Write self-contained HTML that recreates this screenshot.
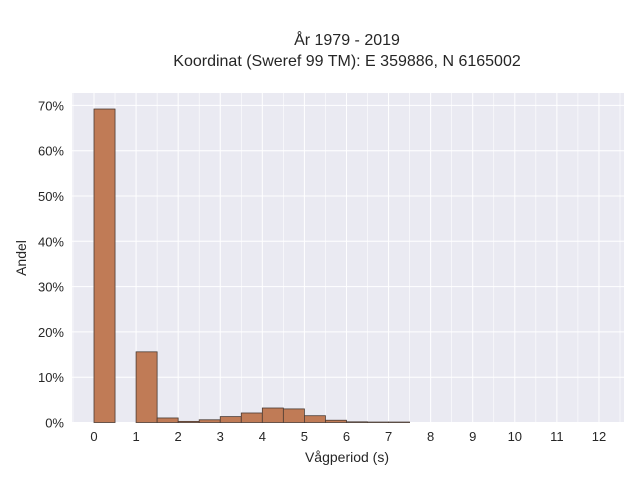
<!DOCTYPE html>
<html><head><meta charset="utf-8"><style>
body{margin:0;background:#fff;}
svg{display:block;font-family:"Liberation Sans",sans-serif;}
</style></head><body>
<svg id="c" width="640" height="480">
<text x="347" y="45" text-anchor="middle" font-size="16" fill="#262626">År 1979 - 2019</text>
<text x="347" y="66" text-anchor="middle" font-size="16" fill="#262626">Koordinat (Sweref 99 TM): E 359886, N 6165002</text>
<rect x="72" y="93" width="552" height="330" fill="#eaeaf2"/>
<g id="grid"></g><g id="bars"></g><g id="ticks"></g>
<text x="347" y="462" text-anchor="middle" font-size="14" fill="#262626">Vågperiod (s)</text>
<text transform="translate(26,258) rotate(-90)" text-anchor="middle" font-size="14" fill="#262626">Andel</text>
</svg>
<script>
const binStarts=[0,1,1.5,2,2.5,3,3.5,4,4.5,5,5.5,6,6.5,7];
const shares=[69.2,15.6,1.0,0.25,0.6,1.3,2.1,3.2,3.0,1.5,0.5,0.15,0.1,0.1];
const xTicks=[0,1,2,3,4,5,6,7,8,9,10,11,12];
const yTicks=[0,10,20,30,40,50,60,70];
const binWidth=0.5;
const NS="http://www.w3.org/2000/svg";
const X=v=>94+v*42.08, Y=p=>422.5-p*4.53;
function mk(t,a,parent){const e=document.createElementNS(NS,t);for(const k in a)e.setAttribute(k,a[k]);document.getElementById(parent).appendChild(e);return e;}
for(let v=-0.5;v<=12.5;v+=0.5){
  const e=mk('line',{x1:X(v),x2:X(v),y1:93,y2:423,stroke:'#fff','stroke-width':v%1===0?1:0.6},'grid');
  
  
}
yTicks.forEach(t=>{
  const l=mk('line',{x1:72,x2:624,y1:Y(t),y2:Y(t),stroke:'#fff','stroke-width':1},'grid');
  
  
  const tx=mk('text',{x:64,y:Y(t)+5,'text-anchor':'end','font-size':13,fill:'#262626'},'ticks');
  tx.textContent=t+'%';
  
  
});
xTicks.forEach(t=>{
  const tx=mk('text',{x:X(t),y:441,'text-anchor':'middle','font-size':13,fill:'#262626'},'ticks');
  tx.textContent=t;
  
  
});
binStarts.forEach((b,i)=>{
  const r=mk('rect',{x:X(b),y:Y(shares[i]),width:X(b+binWidth)-X(b),height:Y(0)-Y(shares[i]),fill:'#c07b56',stroke:'#4a3a32','stroke-width':0.8},'bars');
  
  
});
</script>
</body></html>
